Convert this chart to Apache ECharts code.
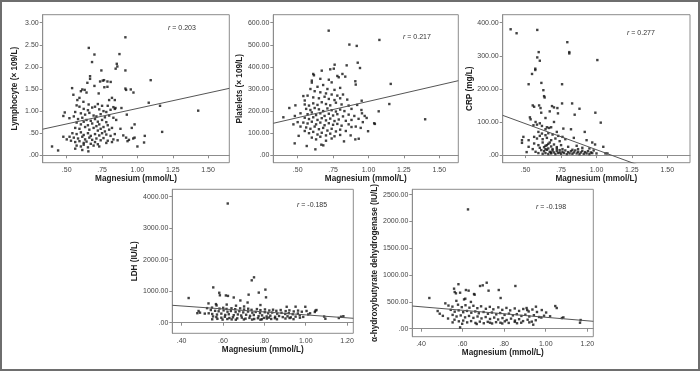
<!DOCTYPE html>
<html>
<head>
<meta charset="utf-8">
<script src="https://cdn.jsdelivr.net/npm/echarts@6/dist/echarts.min.js"></script>
<style>
html,body{margin:0;padding:0;background:#fff;}
#c{width:700px;height:371px;}
</style>
</head>
<body>
<div id="c"></div>
<script>
// ---------------- data (Magnesium mmol/L, value) ----------------
const lymphocyte = [
[0.915,2.67],[0.656,2.43],[0.696,2.28],[0.873,2.29],[0.679,2.11],[0.854,2.07],[0.858,2.01],[0.846,1.96],[0.745,1.92],[0.915,1.92],
[0.665,1.79],[0.665,1.73],[0.736,1.67],[0.755,1.69],[0.764,1.70],[0.788,1.67],[0.811,1.66],[0.646,1.64],[0.766,1.54],[0.788,1.55],
[0.538,1.52],[0.547,1.37],[0.61,1.49],[0.627,1.48],[0.60,1.45],[0.64,1.42],[0.915,1.51],[0.92,1.48],[0.953,1.49],[1.094,1.70],
[0.696,1.57],[0.972,1.42],[0.726,1.40],[0.82,1.30],[0.80,1.25],[0.84,1.25],[0.575,1.25],[0.59,1.30],[0.618,1.21],[0.655,1.15],
[0.72,1.16],[0.75,1.12],[0.79,1.12],[1.08,1.19],[1.16,1.12],[1.43,1.01],[0.83,1.09],[0.84,1.05],[0.845,1.07],[0.887,1.07],
[0.486,0.97],[0.476,0.89],[0.519,0.84],[0.925,0.92],
[0.57,1.13],[0.59,1.10],[0.62,1.05],[0.65,1.02],[0.68,1.08],[0.70,1.10],[0.73,1.04],[0.76,1.00],[0.78,0.98],[0.81,1.03],
[0.56,0.98],[0.60,0.95],[0.63,0.92],[0.66,0.96],[0.69,0.90],[0.71,0.88],[0.74,0.93],[0.77,0.86],[0.80,0.90],[0.83,0.85],
[0.55,0.88],[0.58,0.82],[0.61,0.85],[0.64,0.80],[0.67,0.78],[0.70,0.82],[0.72,0.76],[0.75,0.80],[0.78,0.75],[0.85,0.80],
[0.57,0.74],[0.60,0.70],[0.62,0.76],[0.65,0.68],[0.68,0.72],[0.71,0.66],[0.73,0.70],[0.76,0.64],[0.79,0.68],[0.82,0.62],
[0.56,0.62],[0.59,0.60],[0.63,0.64],[0.66,0.58],[0.69,0.62],[0.72,0.56],[0.74,0.60],[0.77,0.54],[0.80,0.58],[0.88,0.60],
[0.96,0.62],[0.98,0.70],
[0.54,0.50],[0.57,0.48],[0.60,0.52],[0.62,0.46],[0.65,0.50],[0.67,0.44],[0.70,0.48],[0.73,0.45],[0.75,0.50],[0.78,0.47],
[0.81,0.44],[0.84,0.48],[0.90,0.45],[0.92,0.40],[0.55,0.40],[0.58,0.38],[0.61,0.42],[0.63,0.36],[0.66,0.40],[0.68,0.35],
[0.71,0.38],[0.74,0.34],[0.76,0.39],[0.79,0.33],[0.83,0.36],[0.86,0.34],[0.94,0.35],[0.97,0.38],[0.53,0.33],[0.56,0.30],
[0.59,0.32],[0.62,0.28],[0.64,0.31],[0.67,0.26],[0.70,0.30],[0.72,0.25],[0.78,0.28],[0.82,0.30],[0.93,0.32],[0.57,0.22],
[0.60,0.20],[0.62,0.24],[0.65,0.18],[0.69,0.22],[0.73,0.20],[0.56,0.15],[0.61,0.12],[0.653,0.09],[0.476,0.42],[0.396,0.20],
[0.439,0.11],[1.052,0.44],[1.047,0.29],[1.0,0.20],[1.175,0.53],[0.98,0.40],[0.52,0.42],[0.50,0.36]
];
const platelets = [
[0.719,564],[1.077,522],[0.865,501],[0.917,495],[0.924,419],[0.94,395],[0.761,410],[0.846,407],[0.73,389],[0.755,392],
[0.67,383],[0.78,359],[0.79,353],[0.816,368],[0.61,368],[0.615,362],[0.836,356],[0.907,335],[0.91,320],[1.157,323],
[0.60,338],[0.60,329],[0.66,346],[0.72,342],[0.74,330],[0.68,318],[0.64,310],[0.71,300],[0.76,296],[0.80,305],
[0.59,300],[0.62,290],[0.66,285],[0.70,280],[0.74,275],[0.78,270],[0.82,275],[0.57,270],[0.61,262],[0.65,258],
[0.69,265],[0.72,255],[0.76,250],[0.80,258],[0.85,252],[0.441,214],[0.484,226],[0.54,268],[0.55,248],[1.147,232],
[1.072,199],[0.952,247],[0.954,190],[0.973,178],[0.987,169],[1.04,145],[1.045,142],[1.40,163],[0.399,172],[0.479,54],
[0.507,88],[0.564,42],[0.625,27],[0.667,48],[0.681,45],[0.827,63],[0.907,72],[0.931,75],[0.874,90],[0.997,109],[0.945,124],
[0.55,230],[0.58,225],[0.61,235],[0.64,228],[0.67,240],[0.70,232],[0.73,226],[0.77,238],[0.81,230],[0.86,225],[0.92,228],
[0.56,210],[0.59,205],[0.62,214],[0.65,208],[0.68,200],[0.71,212],[0.74,204],[0.77,198],[0.80,207],[0.83,200],[0.88,210],[0.95,205],
[0.52,190],[0.57,186],[0.60,194],[0.63,182],[0.66,190],[0.69,178],[0.72,188],[0.75,180],[0.78,186],[0.82,176],[0.86,184],[0.90,178],
[0.55,170],[0.58,164],[0.61,172],[0.64,160],[0.67,168],[0.70,158],[0.73,166],[0.76,155],[0.79,162],[0.84,156],[0.88,160],[0.93,165],
[0.50,150],[0.54,148],[0.57,144],[0.60,152],[0.63,140],[0.66,148],[0.69,136],[0.72,145],[0.75,138],[0.78,142],[0.81,134],[0.86,140],[0.91,130],
[0.56,126],[0.59,120],[0.62,130],[0.65,118],[0.68,124],[0.71,112],[0.74,120],[0.77,108],[0.80,116],[0.84,110],
[0.58,100],[0.61,106],[0.64,94],[0.67,102],[0.70,90],[0.73,98],[0.76,86],[0.80,92],[0.60,80],[0.63,72],[0.66,84],[0.70,66],[0.74,76],
[0.55,110],[0.52,130],[0.47,140],[0.48,178],[0.88,128],[0.96,150]
];
const crp = [
[0.394,380],[0.436,368],[0.582,378],[0.794,341],[0.808,311],[0.808,307],[0.592,311],[0.582,295],[0.60,285],[1.006,287],
[0.568,261],[0.568,257],[0.545,245],[0.521,214],[0.611,218],[0.757,214],[0.625,196],[0.63,178],[0.634,174],[0.757,156],
[0.828,156],[0.55,150],[0.56,146],[0.595,150],[0.605,142],[0.686,148],[0.70,144],[0.724,142],[0.88,140],[0.61,128],
[0.728,126],[0.992,128],[0.846,122],[0.53,114],[0.535,108],[0.64,112],[0.67,132],[1.03,98],[0.57,100],[0.60,96],
[0.65,84],[0.665,82],[0.68,84],[0.64,78],[0.766,80],[0.82,78],[0.917,70],[0.484,55],[0.474,45],[0.474,37],
[0.521,45],[1.048,25],[1.063,5],[1.077,5],[0.507,9],[0.521,25],
[0.555,90],[0.58,92],[0.615,88],[0.70,100],[0.72,70],[0.59,70],[0.615,65],[0.64,60],[0.66,66],[0.69,62],
[0.73,58],[0.76,55],[0.56,55],[0.58,50],[0.60,58],[0.62,48],[0.65,52],[0.68,45],[0.71,50],[0.74,42],
[0.78,48],[0.84,52],[0.93,45],[0.97,38],[0.99,32],[0.56,35],[0.59,30],[0.62,38],[0.64,28],[0.66,34],
[0.68,26],[0.70,32],[0.72,24],[0.75,30],[0.80,25],[0.86,28],[0.90,22],[0.95,20],
[0.55,18],[0.57,10],[0.59,6],[0.61,15],[0.62,4],[0.63,12],[0.64,6],[0.65,16],[0.66,3],[0.67,10],
[0.68,5],[0.69,14],[0.70,8],[0.71,3],[0.72,12],[0.73,6],[0.74,15],[0.75,4],[0.76,10],[0.77,6],
[0.78,14],[0.79,3],[0.80,9],[0.81,5],[0.82,12],[0.83,4],[0.84,8],[0.85,14],[0.86,5],[0.87,10],
[0.88,3],[0.89,8],[0.90,13],[0.91,4],[0.92,9],[0.93,5],[0.94,12],[0.95,3],[0.96,8],[0.97,6],
[0.98,14],[1.00,5],[0.66,20],[0.69,18],[0.72,19],[0.76,18],[0.60,22],[0.64,18],[0.68,8],[0.74,8],
[0.83,16],[0.87,18],[0.63,24],[0.65,30],[0.67,38]
];
const ldh = [
[0.623,3784],[0.750,1440],[0.739,1345],[0.553,1120],[0.805,1050],[0.773,955],[0.582,950],[0.585,870],[0.614,865],[0.624,850],
[0.724,890],[0.808,805],[0.434,783],[0.652,800],[0.684,705],[0.566,590],[0.569,548],[0.530,612],[0.719,640],[0.781,560],
[0.618,575],[0.663,540],[0.702,515],[0.998,505],[0.951,508],[0.908,505],[1.047,382],[1.044,340],[1.171,190],[1.160,148],
[1.089,195],[1.182,205],[1.095,125],[0.482,372],[0.489,318],[0.512,288],[0.476,302],
[0.523,462],[0.547,478],[0.583,447],[0.601,472],[0.617,437],[0.641,458],[0.659,428],[0.683,455],[0.702,418],[0.722,443],
[0.738,408],[0.764,432],[0.781,398],[0.803,421],[0.824,386],[0.842,412],[0.858,377],[0.879,402],[0.903,368],[0.921,392],
[0.942,357],[0.963,384],[0.981,348],[1.004,372],
[0.541,402],[0.562,377],[0.579,362],[0.603,391],[0.622,348],[0.638,372],[0.661,338],[0.679,363],[0.698,327],[0.721,352],
[0.742,318],[0.758,341],[0.779,306],[0.802,333],[0.818,298],[0.838,322],[0.862,287],[0.883,312],[0.901,278],[0.918,303],
[0.937,268],[0.962,292],[1.021,298],
[0.531,298],[0.548,276],[0.571,258],[0.592,288],[0.611,247],[0.628,268],[0.652,238],[0.672,262],[0.688,228],[0.712,252],
[0.731,217],[0.749,243],[0.772,208],[0.789,232],[0.811,198],[0.829,222],[0.852,188],[0.871,212],[0.889,178],[0.912,203],
[0.928,168],[0.951,192],[0.972,158],[0.988,183],
[0.552,198],[0.568,178],[0.592,158],[0.609,188],[0.631,148],[0.648,172],[0.669,138],[0.691,162],[0.709,128],[0.728,152],
[0.751,118],[0.769,142],[0.788,108],[0.812,132],[0.833,118],[0.861,108],[0.902,132],[0.941,112],
[0.548,108],[0.573,122],[0.598,98],[0.621,116],[0.642,104],[0.662,94],[0.701,103],[0.741,99],[0.781,96],[0.798,152],
[0.822,162],[0.851,142],[0.922,148],[1.052,402],[1.012,262],[0.971,238]
];
const hbdh = [
[0.626,2226],[0.580,830],[0.684,797],[0.697,809],[0.716,858],[0.854,797],[0.774,722],[0.559,747],[0.562,685],[0.568,660],
[0.616,722],[0.629,710],[0.588,672],[0.655,647],[0.658,635],[0.725,710],[0.783,573],[0.440,573],[0.517,473],[0.607,547],
[0.613,560],[0.570,520],[0.640,500],[1.046,423],[1.053,386],[0.953,411],[0.908,386],[0.911,349],[1.085,211],[1.078,199],
[1.168,162],[1.165,112],[0.940,75],[0.588,25],[0.480,330],[0.490,280],[0.505,240],[0.530,190],
[0.532,432],[0.551,412],[0.578,448],[0.596,402],[0.614,438],[0.633,392],[0.652,428],[0.671,383],[0.689,418],[0.712,372],
[0.731,408],[0.748,362],[0.772,398],[0.791,352],[0.811,388],[0.829,342],[0.851,378],[0.872,332],[0.892,368],[0.918,322],
[0.936,358],[0.958,312],[0.981,348],[1.002,302],
[0.543,352],[0.562,318],[0.581,342],[0.603,308],[0.621,332],[0.642,298],[0.661,322],[0.678,288],[0.701,312],[0.722,278],
[0.741,302],[0.762,268],[0.781,292],[0.802,258],[0.823,282],[0.842,248],[0.861,272],[0.883,238],[0.902,262],[0.921,228],
[0.943,252],[0.968,218],[0.992,242],[1.021,232],
[0.552,258],[0.571,228],[0.591,248],[0.612,212],[0.631,238],[0.652,202],[0.672,228],[0.691,192],[0.711,218],[0.732,182],
[0.752,208],[0.771,172],[0.792,198],[0.812,162],[0.833,188],[0.852,152],[0.872,178],[0.891,142],[0.913,168],[0.933,132],
[0.952,158],[0.979,208],
[0.561,168],[0.582,138],[0.603,152],[0.622,118],[0.641,142],[0.662,108],[0.683,132],[0.702,102],[0.721,128],[0.742,98],
[0.761,122],[0.782,112],[0.803,138],[0.822,108],[0.851,128],[0.882,112],[0.921,118],[0.552,118],[0.598,92],[0.668,88],
[0.732,112],[0.791,98],[0.862,102]
];

// tick labels
const xTicksTop = [0.5, 0.75, 1.0, 1.25, 1.5];
const xTicksBottom = [0.4, 0.6, 0.8, 1.0, 1.2];
const yTicksLymphocyte = [0, 0.5, 1.0, 1.5, 2.0, 2.5, 3.0];
const yTicksPlatelets = [0, 100, 200, 300, 400, 500, 600];
const yTicksCrp = [0, 100, 200, 300, 400];
const yTicksLdh = [0, 1000, 2000, 3000, 4000];
const yTicksHbdh = [0, 500, 1000, 1500, 2000, 2500];

// names, correlation, fitted regression lines (intercept, slope)
const xName = 'Magnesium (mmol/L)';
const yNames = ['Lymphocyte (\u00d7 109/L)', 'Platelets (\u00d7 109/L)', 'CRP (mg/L)', 'LDH (IU/L)', '\u03b1-hydroxybutyrate dehydrogenase (IU/L)'];
const rValues = ['0.203', '0.217', '0.277', '-0.185', '-0.198'];
const fitIntercept = [0.36, 96.4, 173, 719, 540];
const fitSlope = [0.70, 147.6, -156.8, -471, -327];

// ---------------- layout ----------------
const FONT = '"Liberation Sans", Arial, Helvetica, sans-serif';
const panels = [
  {data: lymphocyte, xt: xTicksTop, yt: yTicksLymphocyte, grid: {left: 42.7, top: 14.7, width: 186.6, height: 148}, xr: [0.33, 1.65], yr: [-0.167, 3.181], rPos: [168, 27.7], yGap: 24},
  {data: platelets, xt: xTicksTop, yt: yTicksPlatelets, grid: {left: 273.3, top: 14.7, width: 185, height: 148}, xr: [0.328, 1.634], yr: [-33.5, 636.2], rPos: [403, 37], yGap: 23},
  {data: crp, xt: xTicksTop, yt: yTicksCrp, grid: {left: 502.7, top: 14.7, width: 187.3, height: 148}, xr: [0.338, 1.66], yr: [-23, 424], rPos: [627, 33], yGap: 23},
  {data: ldh, xt: xTicksBottom, yt: yTicksLdh, grid: {left: 172.3, top: 189.3, width: 181, height: 144}, xr: [0.355, 1.23], yr: [-337, 4235], rPos: [297, 205], yGap: 23},
  {data: hbdh, xt: xTicksBottom, yt: yTicksHbdh, grid: {left: 412.3, top: 189.3, width: 181, height: 147.4}, xr: [0.358, 1.229], yr: [-149, 2601], rPos: [536, 207], yGap: 27}
];

const fmt = v => v.toFixed(2).replace(/^(-?)0\./, '$1.');
const axisColor = '#8c8c8c';
const grids = [], xAxes = [], yAxes = [], series = [], graphics = [];

panels.forEach((p, i) => {
  grids.push(Object.assign({show: true, borderColor: axisColor, borderWidth: 1, backgroundColor: '#fff', containLabel: false}, p.grid));
  xAxes.push({
    type: 'value', gridIndex: i, min: p.xr[0], max: p.xr[1],
    name: xName, nameLocation: 'middle', nameGap: 12,
    nameTextStyle: {fontFamily: FONT, fontSize: 8.2, fontWeight: 'bold', color: '#222'},
    axisLine: {show: true, lineStyle: {color: axisColor, width: 1}},
    axisTick: {show: true, length: 3, customValues: p.xt, lineStyle: {color: axisColor}},
    axisLabel: {customValues: p.xt, formatter: fmt, fontFamily: FONT, fontSize: 7, color: '#444', margin: 4},
    splitLine: {show: false}
  });
  yAxes.push({
    type: 'value', gridIndex: i, min: p.yr[0], max: p.yr[1],
    name: yNames[i], nameLocation: 'middle', nameGap: p.yGap, nameRotate: 90,
    nameTextStyle: {fontFamily: FONT, fontSize: 8.2, fontWeight: 'bold', color: '#222'},
    axisLine: {show: true, lineStyle: {color: axisColor, width: 1}},
    axisTick: {show: true, length: 3, customValues: p.yt, lineStyle: {color: axisColor}},
    axisLabel: {customValues: p.yt, formatter: fmt, fontFamily: FONT, fontSize: 7, color: '#444', margin: 4},
    splitLine: {show: false}
  });
  series.push({
    type: 'scatter', xAxisIndex: i, yAxisIndex: i, data: p.data,
    symbol: 'rect', symbolSize: 2.4, itemStyle: {color: '#111'}, silent: true
  });
  const x0 = p.xr[0], x1 = p.xr[1];
  series.push({
    type: 'line', xAxisIndex: i, yAxisIndex: i, clip: true, silent: true,
    showSymbol: false, symbol: 'none',
    data: [[x0, fitIntercept[i] + fitSlope[i] * x0], [x1, fitIntercept[i] + fitSlope[i] * x1]],
    lineStyle: {color: '#555', width: 1}
  });
  graphics.push({
    type: 'text', x: p.rPos[0], y: p.rPos[1], silent: true,
    style: {
      text: '{i|r} = ' + rValues[i], fontFamily: FONT, fontSize: 7, fill: '#333', verticalAlign: 'middle',
      rich: {i: {fontStyle: 'italic', fontFamily: FONT, fontSize: 7, fill: '#333'}}
    }
  });
});

graphics.push({type: 'rect', shape: {x: 1, y: 1, width: 698, height: 369}, style: {fill: null, stroke: '#6e6e6e', lineWidth: 2}, silent: true, z: 100});

const chart = echarts.init(document.getElementById('c'), null, {renderer: 'canvas'});
chart.setOption({
  animation: false,
  backgroundColor: '#fff',
  grid: grids, xAxis: xAxes, yAxis: yAxes, series: series, graphic: graphics
});
</script>
</body>
</html>
